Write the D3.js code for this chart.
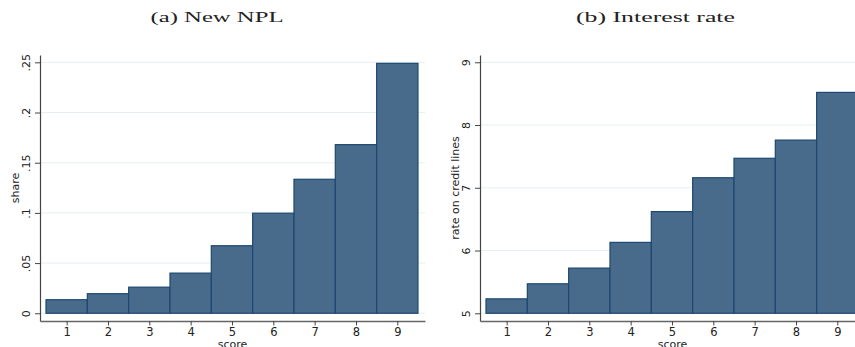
<!DOCTYPE html>
<html>
<head>
<meta charset="utf-8">
<script src="https://cdn.jsdelivr.net/npm/d3@7"></script>
<style>
  body { margin: 0; background: #fff; }
  svg { display: block; }
</style>
</head>
<body>
<svg id="chart" width="855" height="347"></svg>
<script>
// data
const scores = [1, 2, 3, 4, 5, 6, 7, 8, 9];
const nplShare = [0.0135, 0.0195, 0.026, 0.040, 0.0673, 0.0997, 0.1335, 0.168, 0.249];
const creditRate = [5.23, 5.47, 5.72, 6.13, 6.62, 7.16, 7.47, 7.76, 8.52];
const nplTicks = [0, 0.05, 0.1, 0.15, 0.2, 0.25];
const rateTicks = [5, 6, 7, 8, 9];

const svg = d3.select("#chart");

const barFill = "#486a8b";
const barStroke = "#1d4870";
const gridColor = "#e6eff1";
const axisColor = "#444";

function stataNum(d) {
    if (d === 0) return "0";
    return String(+d.toFixed(3)).replace(/^0\./, ".");
}

function drawPanel(opts) {
    const g = svg.append("g").attr("transform", "translate(" + opts.dx + ",0)");

    const x = d3.scaleLinear().domain([0.355, 9.67]).range([40, 425]);
    const y = d3.scaleLinear().domain(opts.yDomain).range([321, 55]);

    // title
    g.append("text")
        .attr("x", opts.titleX)
        .attr("y", 22)
        .attr("text-anchor", "middle")
        .attr("font-family", "'Liberation Serif', 'DejaVu Serif', serif")
        .attr("font-size", 15)
        .attr("textLength", opts.titleLen)
        .attr("lengthAdjust", "spacingAndGlyphs")
        .attr("fill", "#222")
        .text(opts.title);

    // gridlines
    g.selectAll("line.grid")
        .data(opts.ticks)
        .enter()
        .append("line")
        .attr("class", "grid")
        .attr("x1", 40)
        .attr("x2", 425)
        .attr("y1", d => y(d))
        .attr("y2", d => y(d))
        .attr("stroke", gridColor)
        .attr("stroke-width", 1);

    // bars
    g.selectAll("rect.bar")
        .data(opts.values)
        .enter()
        .append("rect")
        .attr("class", "bar")
        .attr("x", (d, i) => x(scores[i] - 0.5))
        .attr("width", (d, i) => x(scores[i] + 0.5) - x(scores[i] - 0.5))
        .attr("y", d => y(d))
        .attr("height", d => y(opts.base) - y(d))
        .attr("fill", barFill)
        .attr("stroke", barStroke)
        .attr("stroke-width", 1.2);

    // y axis
    const yAxis = g.append("g")
        .attr("transform", "translate(40,0)")
        .call(d3.axisLeft(y).tickValues(opts.ticks).tickFormat(opts.fmt).tickSize(5).tickSizeOuter(0));
    yAxis.select(".domain").attr("stroke", axisColor).attr("stroke-width", 1.2);
    yAxis.selectAll(".tick line").attr("stroke", axisColor);
    yAxis.selectAll(".tick text")
        .attr("transform", "rotate(-90)")
        .attr("x", 0)
        .attr("y", -10.5)
        .attr("dy", 0)
        .attr("text-anchor", "middle")
        .attr("font-family", "'DejaVu Sans', sans-serif")
        .attr("font-size", 11)
        .attr("fill", "#222");

    // x axis
    const xAxis = g.append("g")
        .attr("transform", "translate(0,321)")
        .call(d3.axisBottom(x).tickValues(scores).tickFormat(d3.format("d")).tickSize(4.5).tickPadding(2.5).tickSizeOuter(0));
    xAxis.select(".domain").attr("stroke", "#666").attr("stroke-width", 1.5);
    xAxis.selectAll(".tick line").attr("stroke", axisColor);
    xAxis.selectAll(".tick text")
        .attr("font-family", "'DejaVu Sans', sans-serif")
        .attr("font-size", 11.5)
        .attr("fill", "#222");

    // axis titles
    g.append("text")
        .attr("transform", "translate(" + (40 - 21.5) + "," + 188 + ") rotate(-90)")
        .attr("text-anchor", "middle")
        .attr("font-family", "'DejaVu Sans', sans-serif")
        .attr("font-size", 11)
        .attr("fill", "#222")
        .text(opts.yLabel);

    g.append("text")
        .attr("x", 232.5)
        .attr("y", 348)
        .attr("text-anchor", "middle")
        .attr("font-family", "'DejaVu Sans', sans-serif")
        .attr("font-size", 11)
        .attr("fill", "#222")
        .text("score");
}

drawPanel({
    dx: 0,
    title: "(a) New NPL",
    titleX: 217,
    titleLen: 133,
    values: nplShare,
    base: 0,
    yDomain: [-0.0077, 0.2573],
    ticks: nplTicks,
    fmt: stataNum,
    yLabel: "share"
});

drawPanel({
    dx: 440,
    title: "(b) Interest rate",
    titleX: 215.5,
    titleLen: 159,
    values: creditRate,
    base: 5,
    yDomain: [4.877, 9.116],
    ticks: rateTicks,
    fmt: d3.format("d"),
    yLabel: "rate on credit lines"
});
</script>
</body>
</html>
